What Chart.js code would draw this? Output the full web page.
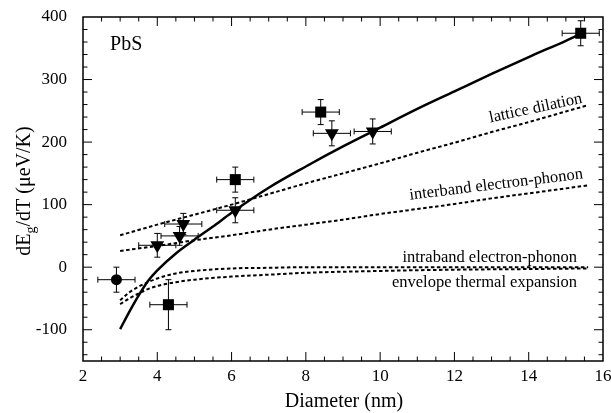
<!DOCTYPE html>
<html>
<head>
<meta charset="utf-8">
<script src="https://cdn.jsdelivr.net/npm/chart.js@4.4.0/dist/chart.umd.min.js"></script>
<style>
body{margin:0;background:#fff}
#wrap{width:611px;height:413px}
</style>
</head>
<body>
<div id="wrap"><canvas id="canvas_main" width="611" height="413"></canvas></div>
<script>
FONT = "'Liberation Serif', 'DejaVu Serif', serif"

// measured points (nm, ueV/K)
var squareX = [4.3, 6.1, 8.4, 15.4]
var squareY = [-60, 140, 248, 374]
var squareErrX = [0.5, 0.5, 0.5, 0.5]
var squareErrY = [40, 20, 20, 20]

var triangleX = [4.0, 4.6, 4.7, 6.1, 8.7, 9.8]
var triangleY = [35, 50, 69, 91, 214, 217]
var triangleErrX = [0.5, 0.5, 0.5, 0.5, 0.5, 0.5]
var triangleErrY = [19, 15, 17, 20, 20, 20]

var circleX = [2.9]
var circleY = [-20]
var circleErrX = [0.5]
var circleErrY = [20]

// total (solid line)
var fitX = [3, 3.25, 3.5, 3.75, 4, 4.5, 5, 5.5, 6, 7, 8, 9, 10, 11, 12, 13, 14, 15, 15.4]
var fitY = [-99, -71, -45, -22, -5, 22, 44, 65, 87, 127, 161, 193, 223, 253, 281, 309, 336, 362, 373]

// lattice dilation / interband electron-phonon
var straightX = [3, 4, 5, 6, 7, 8, 9, 10, 11, 12, 13, 14, 15, 15.6]
var latticeY = [51, 68, 84, 100, 117, 134, 150, 166, 183, 199, 216, 232, 249, 259]
var interbandY = [26, 34, 43, 51, 60, 68, 76, 85, 93, 101, 110, 118, 126, 131]

// intraband electron-phonon / envelope thermal expansion
var lowX = [3, 3.25, 3.5, 3.75, 4, 4.5, 5, 6, 7, 8, 10, 12, 14, 15.6]
var intrabandY = [-53, -40, -31, -24, -18, -10, -6, -2, -1, 0, 0, 0, 0, 0]
var envelopeY = [-59, -50, -42, -35, -30, -24, -20, -15, -12, -9, -6, -4, -3, -2]

var xTicks = [2, 4, 6, 8, 10, 12, 14, 16]
var yTicks = [-100, 0, 100, 200, 300, 400]

// curve labels, anchored in data coordinates
var noteText = ['PbS', 'lattice dilation', 'interband electron-phonon', 'intraband electron-phonon', 'envelope thermal expansion']
var noteX = [2.73, 15.46, 15.47, 15.3, 15.3]
var noteY = [348, 263, 142, 8, -32]

function pts(xs, ys, ex, ey){
    return xs.map(function(x, i){
        return {x: x, y: ys[i], xe: ex ? ex[i] : 0, ye: ey ? ey[i] : 0}
    })
}

function curve(xs, ys, dashed){
    return {
        data: pts(xs, ys),
        showLine: true,
        pointRadius: 0,
        borderColor: '#000',
        borderWidth: dashed ? 2 : 2.5,
        borderDash: dashed ? [3.5, 2.5] : [],
        tension: 0.4,
        cubicInterpolationMode: 'monotone'
    }
}

var errorBars = {
    id: 'errorBars',
    beforeDatasetsDraw: function(chart){
        var ctx = chart.ctx, xs = chart.scales.x, ys = chart.scales.y
        ctx.save()
        ctx.strokeStyle = '#000'
        ctx.lineWidth = 1
        chart.data.datasets.forEach(function(ds){
            if(ds.showLine) return
            ds.data.forEach(function(p){
                var px = xs.getPixelForValue(p.x), py = ys.getPixelForValue(p.y)
                var x0 = xs.getPixelForValue(p.x - p.xe), x1 = xs.getPixelForValue(p.x + p.xe)
                var y0 = ys.getPixelForValue(p.y - p.ye), y1 = ys.getPixelForValue(p.y + p.ye)
                ctx.beginPath()
                ctx.moveTo(x0, py); ctx.lineTo(x1, py)
                ctx.moveTo(x0, py - 3); ctx.lineTo(x0, py + 3)
                ctx.moveTo(x1, py - 3); ctx.lineTo(x1, py + 3)
                ctx.moveTo(px, y0); ctx.lineTo(px, y1)
                ctx.moveTo(px - 3, y0); ctx.lineTo(px + 3, y0)
                ctx.moveTo(px - 3, y1); ctx.lineTo(px + 3, y1)
                ctx.stroke()
            })
        })
        ctx.restore()
    }
}

var frameTicks = {
    id: 'frameTicks',
    afterDraw: function(chart){
        var ctx = chart.ctx, a = chart.chartArea, xs = chart.scales.x, ys = chart.scales.y
        ctx.save()
        ctx.strokeStyle = '#000'
        ctx.lineWidth = 1.5
        ctx.strokeRect(a.left, a.top, a.right - a.left, a.bottom - a.top)
        ctx.lineWidth = 1
        ctx.beginPath()
        for(var v = 2.5; v < 16; v += 0.5){
            var px = xs.getPixelForValue(v)
            var len = (v % 2 === 0) ? 9 : 4.5
            ctx.moveTo(px, a.bottom); ctx.lineTo(px, a.bottom - len)
            ctx.moveTo(px, a.top); ctx.lineTo(px, a.top + len)
        }
        for(var w = -140; w < 400; w += 20){
            var py = ys.getPixelForValue(w)
            var l = (w % 100 === 0) ? 9 : 4.5
            ctx.moveTo(a.left, py); ctx.lineTo(a.left + l, py)
            ctx.moveTo(a.right, py); ctx.lineTo(a.right - l, py)
        }
        ctx.stroke()
        ctx.restore()
    }
}

var texts = {
    id: 'texts',
    afterDraw: function(chart){
        var ctx = chart.ctx, a = chart.chartArea, xs = chart.scales.x, ys = chart.scales.y
        var sizes = [20, 16.5, 16.5, 16.5, 16.5]
        var angles = [0, -12, -7, 0, 0]
        ctx.save()
        ctx.fillStyle = '#000'
        ctx.textBaseline = 'alphabetic'
        for(var i = 0; i < noteText.length; i++){
            ctx.save()
            ctx.translate(xs.getPixelForValue(noteX[i]), ys.getPixelForValue(noteY[i]))
            ctx.rotate(angles[i] * Math.PI / 180)
            ctx.font = sizes[i] + 'px ' + FONT
            ctx.textAlign = i === 0 ? 'left' : 'right'
            ctx.fillText(noteText[i], 0, 0)
            ctx.restore()
        }

        // x title
        ctx.font = '20px ' + FONT
        ctx.textAlign = 'center'
        ctx.fillText('Diameter (nm)', (a.left + a.right) / 2 + 1, 407)

        // y title with subscript g
        ctx.translate(29.5, (a.top + a.bottom) / 2 + 2)
        ctx.rotate(-Math.PI / 2)
        ctx.textAlign = 'left'
        var big = '20px ' + FONT, small = '14px ' + FONT
        ctx.font = big
        var w1 = ctx.measureText('dE').width, w3 = ctx.measureText('/dT (\u03bceV/K)').width
        ctx.font = small
        var w2 = ctx.measureText('g').width
        var x0 = -(w1 + w2 + w3) / 2
        ctx.font = big
        ctx.fillText('dE', x0, 0)
        ctx.font = small
        ctx.fillText('g', x0 + w1, 5)
        ctx.font = big
        ctx.fillText('/dT (\u03bceV/K)', x0 + w1 + w2, 0)
        ctx.restore()
    }
}

var ctx = document.getElementById('canvas_main').getContext('2d')
var chart = new Chart(ctx, {
    type: 'scatter',
    data: {
        datasets: [
            {
                data: pts(squareX, squareY, squareErrX, squareErrY),
                pointStyle: 'rect',
                pointRadius: 7.8,
                backgroundColor: '#000',
                borderColor: '#000',
                borderWidth: 0
            },
            {
                data: pts(triangleX, triangleY, triangleErrX, triangleErrY),
                pointStyle: 'triangle',
                rotation: 180,
                pointRadius: 8,
                backgroundColor: '#000',
                borderColor: '#000',
                borderWidth: 0
            },
            {
                data: pts(circleX, circleY, circleErrX, circleErrY),
                pointStyle: 'circle',
                pointRadius: 5.5,
                backgroundColor: '#000',
                borderColor: '#000',
                borderWidth: 0
            },
            curve(fitX, fitY, false),
            curve(straightX, latticeY, true),
            curve(straightX, interbandY, true),
            curve(lowX, intrabandY, true),
            curve(lowX, envelopeY, true)
        ]
    },
    options: {
        responsive: false,
        animation: false,
        events: [],
        layout: {padding: {top: 17, right: 7, left: 0, bottom: 0}},
        plugins: {legend: {display: false}, tooltip: {enabled: false}},
        scales: {
            x: {
                type: 'linear',
                min: 2,
                max: 16,
                grid: {display: false, drawTicks: false},
                border: {display: false},
                ticks: {color: '#000', font: {family: FONT, size: 17}, padding: 5, maxRotation: 0},
                afterBuildTicks: function(s){ s.ticks = xTicks.map(function(v){ return {value: v} }) },
                afterFit: function(s){ s.height = 52; s.paddingLeft = 0; s.paddingRight = 0 }
            },
            y: {
                type: 'linear',
                min: -150,
                max: 400,
                grid: {display: false, drawTicks: false},
                border: {display: false},
                ticks: {color: '#000', font: {family: FONT, size: 17}, padding: 16},
                afterBuildTicks: function(s){ s.ticks = yTicks.map(function(v){ return {value: v} }) },
                afterFit: function(s){ s.width = 83; s.paddingTop = 0; s.paddingBottom = 0 }
            }
        }
    },
    plugins: [errorBars, frameTicks, texts]
})
</script>
</body>
</html>
